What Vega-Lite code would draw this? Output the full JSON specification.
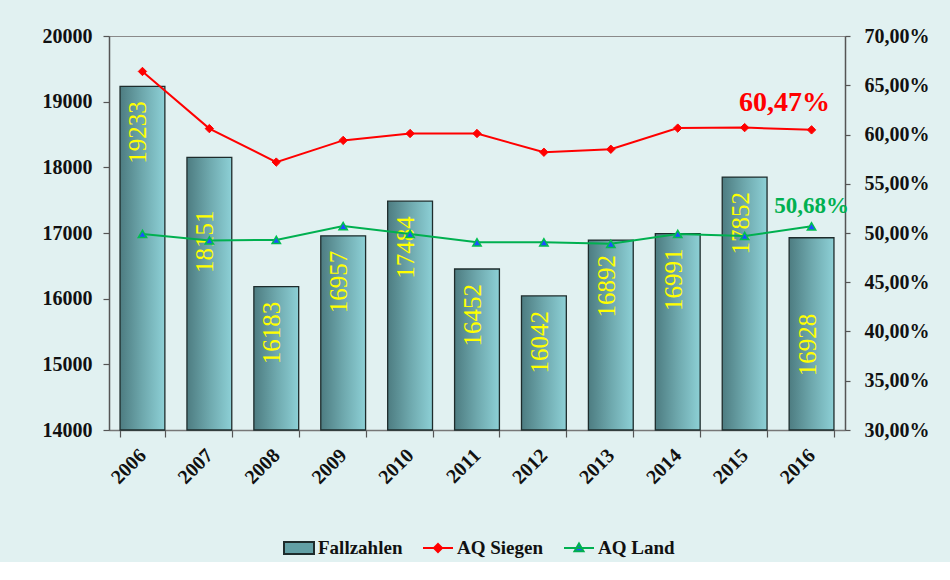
{
  "$schema": "https://vega.github.io/schema/vega-lite/v6.json",
  "width": 736,
  "height": 394,
  "autosize": {"type": "none"},
  "padding": {"left": 109, "top": 36, "right": 105, "bottom": 132},
  "background": "#e1f1f1",
  "config": {
    "locale": {"number": {"decimal": ",", "thousands": ".", "grouping": [3], "currency": ["", " €"]}},
    "view": {"stroke": "#8a8a8a", "strokeWidth": 1},
    "font": "Liberation Serif",
    "text": {"font": "Liberation Serif"},
    "axis": {
      "labelFont": "Liberation Serif",
      "labelFontWeight": "bold",
      "labelColor": "#111111",
      "domainColor": "#555555",
      "domainWidth": 1.5,
      "tickColor": "#555555",
      "tickWidth": 1.2,
      "grid": false,
      "title": null
    }
  },
  "datasets": {
    "fall": [
      {"year": "2006", "Fallzahlen": 19233},
      {"year": "2007", "Fallzahlen": 18151},
      {"year": "2008", "Fallzahlen": 16183},
      {"year": "2009", "Fallzahlen": 16957},
      {"year": "2010", "Fallzahlen": 17484},
      {"year": "2011", "Fallzahlen": 16452},
      {"year": "2012", "Fallzahlen": 16042},
      {"year": "2013", "Fallzahlen": 16892},
      {"year": "2014", "Fallzahlen": 16991},
      {"year": "2015", "Fallzahlen": 17852},
      {"year": "2016", "Fallzahlen": 16928}
    ],
    "aq": [
      {"year": "2006", "series": "AQ Siegen", "value": 0.664},
      {"year": "2007", "series": "AQ Siegen", "value": 0.606},
      {"year": "2008", "series": "AQ Siegen", "value": 0.572},
      {"year": "2009", "series": "AQ Siegen", "value": 0.594},
      {"year": "2010", "series": "AQ Siegen", "value": 0.601},
      {"year": "2011", "series": "AQ Siegen", "value": 0.601},
      {"year": "2012", "series": "AQ Siegen", "value": 0.582},
      {"year": "2013", "series": "AQ Siegen", "value": 0.585},
      {"year": "2014", "series": "AQ Siegen", "value": 0.6065},
      {"year": "2015", "series": "AQ Siegen", "value": 0.607},
      {"year": "2016", "series": "AQ Siegen", "value": 0.6047},
      {"year": "2006", "series": "AQ Land", "value": 0.499},
      {"year": "2007", "series": "AQ Land", "value": 0.4925},
      {"year": "2008", "series": "AQ Land", "value": 0.493},
      {"year": "2009", "series": "AQ Land", "value": 0.507},
      {"year": "2010", "series": "AQ Land", "value": 0.499},
      {"year": "2011", "series": "AQ Land", "value": 0.4905},
      {"year": "2012", "series": "AQ Land", "value": 0.4905},
      {"year": "2013", "series": "AQ Land", "value": 0.489},
      {"year": "2014", "series": "AQ Land", "value": 0.499},
      {"year": "2015", "series": "AQ Land", "value": 0.497},
      {"year": "2016", "series": "AQ Land", "value": 0.5068}
    ],
    "legend": [
      {"series": "Fallzahlen"},
      {"series": "AQ Siegen"},
      {"series": "AQ Land"}
    ]
  },
  "layer": [
    {
      "data": {"name": "fall"},
      "encoding": {
        "x": {
          "field": "year", "type": "ordinal",
          "scale": {"paddingInner": 0.33, "paddingOuter": 0.165},
          "axis": {"labelAngle": -45, "labelAlign": "right", "labelBaseline": "middle", "labelFontSize": 20, "labelPadding": 15, "tickSize": 7, "tickBand": "extent", "domainColor": "#777777"}
        },
        "y": {
          "field": "Fallzahlen", "type": "quantitative",
          "scale": {"domain": [14000, 20000]},
          "axis": {"orient": "left", "values": [14000, 15000, 16000, 17000, 18000, 19000, 20000], "format": "d", "labelFontSize": 20, "tickSize": 6, "labelPadding": 11}
        }
      },
      "layer": [
        {
          "mark": {
            "type": "bar",
            "fill": {"gradient": "linear", "x1": 0, "y1": 0, "x2": 1, "y2": 0, "stops": [
              {"offset": 0, "color": "#4d7c81"},
              {"offset": 0.5, "color": "#6ea8ad"},
              {"offset": 1, "color": "#8dd0d6"}
            ]},
            "stroke": "#1e2c2c",
            "strokeWidth": 1.3
          },
          "encoding": {"y2": {"datum": 14000}}
        },
        {
          "transform": [{"filter": "datum.year != '2007' && datum.year != '2016'"}],
          "mark": {"type": "text", "angle": 270, "align": "right", "baseline": "middle", "dx": -15, "dy": -4, "fontSize": 25, "fill": "#ffff00", "font": "Liberation Serif"},
          "encoding": {"text": {"field": "Fallzahlen", "type": "quantitative", "format": "d"}}
        },
        {
          "transform": [{"filter": "datum.year == '2007'"}],
          "mark": {"type": "text", "angle": 270, "align": "right", "baseline": "middle", "dx": -53, "dy": -4, "fontSize": 25, "fill": "#ffff00", "font": "Liberation Serif"},
          "encoding": {"text": {"field": "Fallzahlen", "type": "quantitative", "format": "d"}}
        },
        {
          "transform": [{"filter": "datum.year == '2016'"}],
          "mark": {"type": "text", "angle": 270, "align": "right", "baseline": "middle", "dx": -76, "dy": -4, "fontSize": 25, "fill": "#ffff00", "font": "Liberation Serif"},
          "encoding": {"text": {"field": "Fallzahlen", "type": "quantitative", "format": "d"}}
        }
      ]
    },
    {
      "data": {"name": "aq"},
      "encoding": {
        "x": {"field": "year", "type": "ordinal"},
        "y": {
          "field": "value", "type": "quantitative",
          "scale": {"domain": [0.3, 0.7]},
          "axis": {"orient": "right", "values": [0.3, 0.35, 0.4, 0.45, 0.5, 0.55, 0.6, 0.65, 0.7], "format": ".2%", "labelFontSize": 20, "tickSize": 5, "labelPadding": 14}
        }
      },
      "layer": [
        {
          "transform": [{"filter": "datum.series == 'AQ Siegen'"}],
          "mark": {"type": "line", "color": "#ff0000", "strokeWidth": 2}
        },
        {
          "transform": [{"filter": "datum.series == 'AQ Land'"}],
          "mark": {"type": "line", "color": "#00b050", "strokeWidth": 2}
        },
        {
          "transform": [{"filter": "datum.series == 'AQ Siegen'"}],
          "mark": {"type": "point", "shape": "diamond", "filled": true, "fill": "#ff0000", "stroke": "#ff0000", "strokeWidth": 1, "size": 70, "opacity": 1}
        },
        {
          "transform": [{"filter": "datum.series == 'AQ Land'"}],
          "mark": {"type": "point", "shape": "triangle-up", "filled": true, "fill": "#1f4fff", "stroke": "#00c050", "strokeWidth": 1.5, "size": 70, "opacity": 1}
        },
        {
          "transform": [{"filter": "datum.series == 'AQ Siegen' && datum.year == '2016'"}],
          "mark": {"type": "text", "align": "center", "baseline": "middle", "dx": -27, "dy": -27, "fontSize": 28, "fontWeight": "bold", "fill": "#ff0000", "font": "Liberation Serif"},
          "encoding": {"text": {"field": "value", "type": "quantitative", "format": ".2%"}}
        },
        {
          "transform": [{"filter": "datum.series == 'AQ Land' && datum.year == '2016'"}],
          "mark": {"type": "text", "align": "center", "baseline": "middle", "dx": 0, "dy": -20, "fontSize": 23, "fontWeight": "bold", "fill": "#00b050", "font": "Liberation Serif"},
          "encoding": {"text": {"field": "value", "type": "quantitative", "format": ".2%"}}
        }
      ]
    },
    {
      "data": {"name": "legend"},
      "mark": {"type": "point", "filled": true, "size": 0},
      "encoding": {
        "fill": {
          "field": "series", "type": "nominal",
          "scale": {"domain": ["Fallzahlen", "AQ Siegen", "AQ Land"], "range": ["#62a0a5", "#ff0000", "#1f4fff"]},
          "legend": {"title": null, "orient": "none", "legendX": 174, "legendY": 496, "direction": "horizontal", "symbolSize": 900, "symbolStrokeWidth": 2, "symbolOpacity": 1, "labelFont": "Liberation Serif", "labelFontSize": 19, "labelFontWeight": "bold", "labelColor": "#111111", "labelOffset": 3, "columnPadding": 16, "padding": 0}
        },
        "stroke": {
          "field": "series", "type": "nominal",
          "scale": {"domain": ["Fallzahlen", "AQ Siegen", "AQ Land"], "range": ["#1e2c2c", "#ff0000", "#00b050"]},
          "legend": {"title": null, "orient": "none", "legendX": 174, "legendY": 496, "direction": "horizontal", "symbolSize": 900, "symbolStrokeWidth": 2, "symbolOpacity": 1, "labelFont": "Liberation Serif", "labelFontSize": 19, "labelFontWeight": "bold", "labelColor": "#111111", "labelOffset": 3, "columnPadding": 16, "padding": 0}
        },
        "shape": {
          "field": "series", "type": "nominal",
          "scale": {"domain": ["Fallzahlen", "AQ Siegen", "AQ Land"], "range": ["M-1,-0.4H1V0.4H-1Z", "M-1,0H1M0,-0.27L0.27,0L0,0.27L-0.27,0Z", "M-1,0H1M0,-0.3L0.3,0.22H-0.3Z"]},
          "legend": {"title": null, "orient": "none", "legendX": 174, "legendY": 496, "direction": "horizontal", "symbolSize": 900, "symbolStrokeWidth": 2, "symbolOpacity": 1, "labelFont": "Liberation Serif", "labelFontSize": 19, "labelFontWeight": "bold", "labelColor": "#111111", "labelOffset": 3, "columnPadding": 16, "padding": 0}
        }
      }
    }
  ],
  "resolve": {"scale": {"y": "independent"}}
}
